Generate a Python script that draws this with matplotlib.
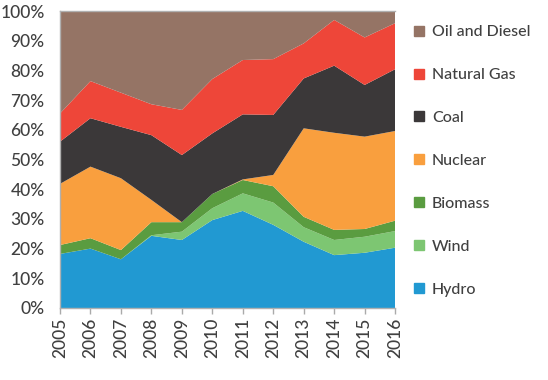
import numpy as np
import matplotlib
matplotlib.use("Agg")
import matplotlib.pyplot as plt
from matplotlib.lines import Line2D

plt.rcParams['font.family'] = ['Lato', 'DejaVu Sans']
plt.rcParams['font.weight'] = 'medium'

# Cumulative tops (percent)
years = [2005, 2006, 2007, 2008, 2009, 2010, 2011, 2012, 2013, 2014, 2015, 2016]
hydro_top   = [18.2, 20.0, 16.4, 24.3, 22.9, 29.6, 32.7, 28.0, 22.3, 17.8, 18.6, 20.3]
wind_top    = [18.2, 20.0, 16.4, 24.5, 25.7, 33.6, 38.6, 35.5, 27.2, 22.9, 24.0, 25.9]
biomass_top = [21.2, 23.5, 19.5, 28.9, 28.9, 38.4, 43.1, 41.0, 30.7, 26.3, 26.6, 29.4]
nuclear_top = [41.8, 47.6, 43.7, 36.4, 28.9, 38.4, 43.3, 44.8, 60.5, 59.0, 57.7, 59.6]
coal_top    = [56.0, 63.9, 61.0, 58.2, 51.5, 58.8, 65.2, 65.0, 77.3, 81.6, 75.1, 80.4]
gas_top     = [65.5, 76.4, 72.5, 68.6, 66.7, 77.1, 83.5, 83.8, 89.1, 97.0, 91.1, 95.9]
total_top   = [100] * len(years)

labels = ["Hydro", "Wind", "Biomass", "Nuclear", "Coal", "Natural Gas", "Oil and Diesel"]
colors = ["#2199d2", "#7dc672", "#5a9c40", "#f99f3e", "#3b3839", "#ee4639", "#957465"]

tops = np.array([hydro_top, wind_top, biomass_top, nuclear_top, coal_top, gas_top, total_top])
shares = np.diff(np.vstack([np.zeros(len(years)), tops]), axis=0)

fig = plt.figure(figsize=(5.48, 3.80), dpi=100)
ax = fig.add_axes([0.1095, 0.1895, 0.6115, 0.7815])
ax.stackplot(years, shares, colors=colors, linewidth=0)

ax.set_xlim(2005, 2016)
ax.set_ylim(0, 100)
ax.set_xticks(years)
ax.set_xticklabels([str(y) for y in years], rotation=90)
ax.set_yticks(range(0, 101, 10))
ax.set_yticklabels([f"{v}%" for v in range(0, 101, 10)])

txt = "#404040"
ax.tick_params(axis='both', labelsize=12.5, colors=txt, length=4, width=1)
ax.tick_params(axis='y', length=0, pad=11)
ax.tick_params(axis='x', color="#aaaaaa", pad=3)
ax.spines['right'].set_visible(False)
for s in ['left', 'bottom', 'top']:
    ax.spines[s].set_color("#b0b0b0")
    ax.spines[s].set_linewidth(1)

handles = [Line2D([], [], marker='s', color=c, linestyle='none', markersize=7)
           for c in colors]
leg = fig.legend(handles[::-1], labels[::-1], loc='center left',
                 bbox_to_anchor=(0.724, 0.5766), frameon=False, fontsize=11.5,
                 labelspacing=1.8, handletextpad=0.3, handlelength=1.0)
for t in leg.get_texts():
    t.set_color(txt)

fig.savefig("out.png", dpi=100)
